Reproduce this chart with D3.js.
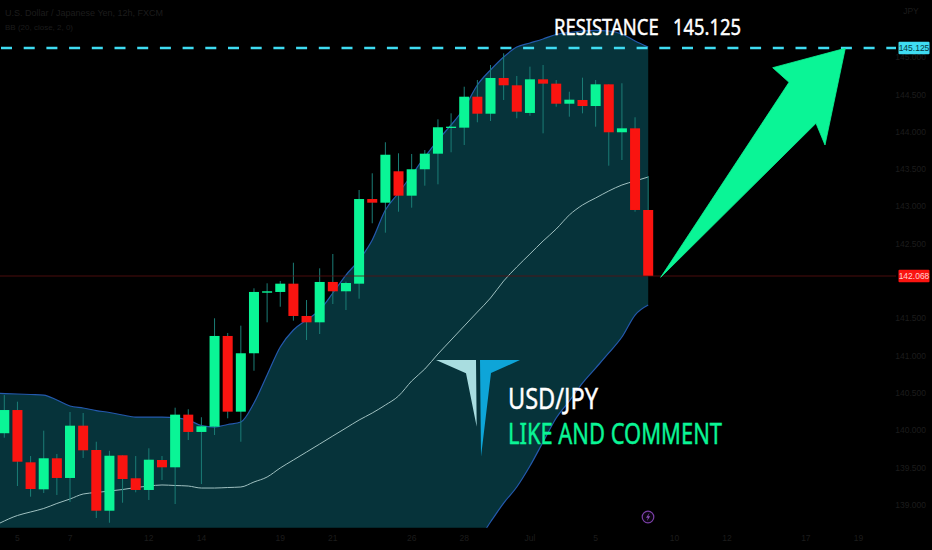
<!DOCTYPE html>
<html><head><meta charset="utf-8">
<script src="https://cdnjs.cloudflare.com/ajax/libs/d3/7.8.5/d3.min.js"></script>
<style>html,body{margin:0;padding:0;background:#000;overflow:hidden}svg{display:block}</style>
</head><body><svg id="c" width="932" height="550"></svg>
<script>
const opens=[139.96,140.271,139.570,139.208,139.624,139.360,140.061,139.735,138.921,139.664,139.356,139.199,139.601,139.503,140.209,139.977,140.048,141.264,140.249,141.032,141.844,141.854,141.965,141.532,141.447,141.988,141.863,141.965,143.100,143.051,143.472,143.145,143.499,143.708,144.057,144.057,144.472,144.244,144.723,144.625,144.254,144.705,144.647,144.378,144.428,144.347,144.638,143.995,144.048,142.953];
const highs=[140.472,140.383,139.654,139.994,139.681,140.244,140.231,139.846,139.725,139.664,139.654,139.758,139.654,140.302,140.281,140.174,141.501,141.304,141.402,141.903,141.970,142.001,142.246,141.746,142.171,142.363,141.992,143.221,143.445,143.861,143.713,143.704,143.757,144.169,144.249,144.606,144.696,144.897,145.054,144.750,144.875,144.897,144.696,144.539,144.727,144.696,144.638,144.652,144.196,143.409];
const lows=[139.90,139.252,139.109,139.158,139.132,139.038,139.628,138.823,138.760,139.028,139.168,139.065,139.333,139.011,139.869,139.279,139.936,140.160,139.846,140.798,141.447,141.656,141.469,141.210,141.290,141.692,141.612,141.764,142.775,142.649,142.930,142.984,143.279,143.297,143.727,143.824,144.129,144.146,144.428,144.183,144.217,143.981,144.338,144.204,144.249,144.070,143.547,143.623,142.930,142.068];
const closes=[140.271,139.578,139.212,139.624,139.360,140.061,139.731,138.921,139.658,139.346,139.199,139.605,139.503,140.209,139.977,140.053,141.264,140.249,141.032,141.854,141.863,141.965,141.532,141.447,141.988,141.863,141.974,143.100,143.051,143.694,143.145,143.499,143.708,144.062,144.070,144.472,144.244,144.723,144.625,144.271,144.705,144.647,144.378,144.432,144.347,144.638,143.995,144.048,142.953,142.068];
const bbUpper=[140.493,140.486,140.479,140.472,140.405,140.325,140.298,140.264,140.238,140.204,140.177,140.177,140.177,140.170,140.137,140.063,140.043,140.077,140.110,140.365,140.741,141.116,141.344,141.478,141.612,141.840,142.081,142.282,142.551,142.953,143.181,143.422,143.664,143.891,144.093,144.320,144.629,144.830,145.004,145.138,145.192,145.246,145.306,145.333,145.353,145.360,145.353,145.313,145.219,145.138];
const bbMiddle=[138.756,138.857,138.904,138.951,139.018,139.078,139.145,139.165,139.185,139.205,139.232,139.252,139.266,139.259,139.252,139.225,139.225,139.232,139.239,139.306,139.373,139.494,139.601,139.708,139.815,139.923,140.030,140.137,140.231,140.338,140.459,140.660,140.821,141.022,141.210,141.398,141.585,141.773,142.001,142.189,142.363,142.537,142.698,142.886,143.020,143.114,143.208,143.288,143.342,143.395];
const bbLower=[137.02,137.23,137.33,137.43,137.63,137.83,137.99,138.07,138.13,138.21,138.29,138.33,138.35,138.35,138.37,138.39,138.41,138.39,138.37,138.25,138.01,137.87,137.86,137.94,138.02,138.01,137.98,137.99,137.91,137.72,137.74,137.90,137.98,138.15,138.33,138.48,138.53,138.770,139.024,139.239,139.520,139.842,140.164,140.392,140.633,140.834,141.036,141.250,141.545,141.679];
const priceTicks=[145,144.5,144,143.5,143,142.5,141.5,141,140.5,140,139.5,139];
const timeTicks=[["5",1],["7",5],["12",11],["14",15],["19",21],["21",25],["26",31],["28",35],["Jul",40],["5",45],["10",51],["12",55],["17",61],["19",65]];
const resistance=145.125, lastPrice=142.068;
const titleText="U.S. Dollar / Japanese Yen, 12h, FXCM";
const indicatorText="BB (20, close, 2, 0)";

const W=932,H=550,plotBottom=527.7,scaleX=896;
const x=d3.scaleLinear().domain([0,49]).range([4.3,648.2]);
const y=d3.scaleLinear().domain([resistance,lastPrice]).range([48,276]);
const svg=d3.select("#c");
svg.append("rect").attr("width",W).attr("height",H).attr("fill","#000");
svg.append("defs").append("clipPath").attr("id","plot").append("rect").attr("x",0).attr("y",0).attr("width",W).attr("height",plotBottom);
const idx=d3.range(opens.length);
const g=svg.append("g").attr("clip-path","url(#plot)");
const sideX=i=>i===0?0:x(i);
const curve=d3.curveMonotoneX;
g.append("path").attr("d",d3.area().curve(curve).x(sideX).y0(i=>y(bbLower[i])).y1(i=>y(bbUpper[i]))(idx)).attr("fill","#06333a");
g.append("path").attr("d",d3.line().curve(curve).x(sideX).y(i=>y(bbUpper[i]))(idx)).attr("fill","none").attr("stroke","#2459ad").attr("stroke-width",1.2);
g.append("path").attr("d",d3.line().curve(curve).x(sideX).y(i=>y(bbLower[i]))(idx)).attr("fill","none").attr("stroke","#2459ad").attr("stroke-width",1.2);
g.append("path").attr("d",d3.line().curve(curve).x(sideX).y(i=>y(bbMiddle[i]))(idx)).attr("fill","none").attr("stroke","#9fc0c0").attr("stroke-width",1);

g.selectAll("line.wick").data(idx).join("line").attr("class","wick")
 .attr("x1",x).attr("x2",x).attr("y1",i=>y(highs[i])).attr("y2",i=>y(lows[i]))
 .attr("stroke","#1b7d76").attr("stroke-width",1);
g.selectAll("rect.body").data(idx).join("rect").attr("class","body")
 .attr("x",i=>x(i)-5).attr("width",10)
 .attr("y",i=>y(Math.max(opens[i],closes[i])))
 .attr("height",i=>Math.max(1.3,Math.abs(y(opens[i])-y(closes[i]))))
 .attr("fill",i=>closes[i]>=opens[i]?"#0af596":"#fa1410");

// price lines
svg.append("line").attr("x1",0).attr("x2",scaleX).attr("y1",y(lastPrice)).attr("y2",y(lastPrice)).attr("stroke","#5e1010").attr("stroke-width",.8);
svg.append("line").attr("x1",1).attr("x2",scaleX).attr("y1",y(resistance)).attr("y2",y(resistance)).attr("stroke","#3fdcf2").attr("stroke-width",2.4).attr("stroke-dasharray","11 11.7");

// axis labels
const font="'Liberation Sans',Arial,sans-serif", dim="#1c1c1c";
svg.append("g").selectAll("text").data(priceTicks).join("text")
 .attr("x",926).attr("y",p=>y(p)+3).attr("text-anchor","end").attr("font-family",font).attr("font-size",8.5).attr("fill",dim).text(p=>d3.format(".3f")(p));
svg.append("text").attr("x",911).attr("y",14).attr("text-anchor","middle").attr("font-family",font).attr("font-size",8.5).attr("fill",dim).text("JPY");
svg.append("g").selectAll("text").data(timeTicks).join("text")
 .attr("x",d=>x(d[1])).attr("y",541).attr("text-anchor","middle").attr("font-family",font).attr("font-size",8.5).attr("fill",dim).text(d=>d[0]);
svg.append("text").attr("x",5).attr("y",16).attr("font-family",font).attr("font-size",9).attr("fill",dim).text(titleText);
svg.append("text").attr("x",5).attr("y",30).attr("font-family",font).attr("font-size",8).attr("fill",dim).text(indicatorText);

// price tags
[[resistance,"#3fdcf2","#063a44"],[lastPrice,"#fa1410","#ffd0d0"]].forEach(([p,bg,fg])=>{
 svg.append("rect").attr("x",898.5).attr("y",y(p)-6.3).attr("width",31).attr("height",12.6).attr("rx",1).attr("fill",bg);
 svg.append("text").attr("x",914).attr("y",y(p)+3).attr("text-anchor","middle").attr("font-family",font).attr("font-size",8.5).attr("fill",fg).text(d3.format(".3f")(p));
});

// annotations
const arrowShape=[[845.3,48.3],[825,145],[816,123.3],[660.7,277.3],[789,82.3],[772.7,67.7]];
svg.append("polygon").attr("points",arrowShape.join(" ")).attr("fill","#0af596").attr("stroke","#0af596").attr("stroke-linejoin","round").attr("stroke-width",.8);
const logoLeft=[[436,360],[476,360],[476.7,426.7],[466,373.3]];
const logoRight=[[480,360],[520,360],[491,373],[481,456.7]];
svg.append("polygon").attr("points",logoLeft.join(" ")).attr("fill","#a9dde0");
svg.append("polygon").attr("points",logoRight.join(" ")).attr("fill","#0ea5d8");
const label=(t,x0,x1,yb,fs,fill)=>svg.append("text").attr("x",x0).attr("y",yb).attr("textLength",x1-x0).attr("lengthAdjust","spacingAndGlyphs")
 .attr("font-family","'Noto Sans',sans-serif").attr("font-size",fs).attr("fill",fill).attr("stroke",fill).attr("stroke-width",.45).attr("xml:space","preserve").text(t);
label("RESISTANCE   145.125",554,741,35,21,"#fff");
label("USD/JPY",508,598,408.5,29,"#fff");
label("LIKE AND COMMENT",508,722,444,29,"#0af596");
svg.append("circle").attr("cx",648).attr("cy",517).attr("r",5.8).attr("fill","#0c0512").attr("stroke","#7a3fa6").attr("stroke-width",1.2);
svg.append("path").attr("d","M649.5 512.8 L646 517.8 L648 517.8 L646.8 521.2 L650.2 516.2 L648.2 516.2 Z").attr("fill","#8a4fb8");
</script></body></html>
